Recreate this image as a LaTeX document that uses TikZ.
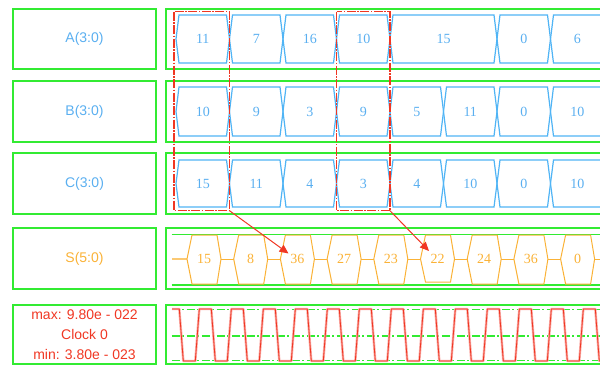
\documentclass[tikz,border=0pt]{standalone}
\usepackage{fontspec}
\setmainfont{Liberation Serif}
\setsansfont{Liberation Sans}
\usetikzlibrary{arrows.meta}
\definecolor{grn}{RGB}{50,235,50}
\definecolor{bl}{RGB}{80,180,245}
\definecolor{blt}{RGB}{90,175,240}
\definecolor{org}{RGB}{250,178,55}
\definecolor{rd}{RGB}{240,55,35}
\definecolor{pnk}{RGB}{250,170,165}
\newcommand\buscell[6]{%
  \pgfmathsetmacro\xa{#1}\pgfmathsetmacro\xb{#2}%
  \pgfmathsetmacro\ym{(#3+#4)/2}\pgfmathsetmacro\xm{(\xa+\xb)/2}%
  \draw[busline] (\xa,\ym) -- ({\xa+3},#3) -- ({\xb-3},#3) -- (\xb,\ym) -- ({\xb-3},#4) -- ({\xa+3},#4) -- cycle;
  \node[celltxt,text=blt] (#6) at (\xm,\ym) {#5};}
\newcommand\scell[4]{%
  \pgfmathsetmacro\xa{#1}%
  \draw[sline] (\xa,259) -- ({\xa+5},235) -- ({\xa+30},235) -- ({\xa+34},259) -- ({\xa+30},#3) -- ({\xa+5},#3) -- cycle;
  \draw[sline] ({\xa+34},259) -- ({\xa+46.7},259);
  \node[celltxt,text=org] (#4) at ({\xa+17},259) {#2};}
\begin{document}
\begin{tikzpicture}[x=1pt,y=-1pt,
  frame/.style={draw=grn,line width=1.8pt},
  busline/.style={draw=bl,line width=1.2pt,line join=miter},
  sline/.style={draw=org,line width=1pt},
  celltxt/.style={font=\fontsize{14}{16}\selectfont,inner sep=0pt},
  lbltxt/.style={font=\sffamily\fontsize{14}{16}\selectfont,inner sep=0pt},
  reddash/.style={draw=rd,line width=1.2pt,dash pattern=on 9pt off 1.5pt on 1.5pt off 1.5pt},
  redarrow/.style={draw=rd,line width=1pt,-{Triangle[length=9pt,width=8pt]}},
  gdash/.style={draw=grn,line width=1.2pt,dash pattern=on 8pt off 2.5pt on 2pt off 2.5pt},
  clkhalo/.style={draw=pnk,line width=2.4pt,line join=round},
  clk/.style={draw=rd,line width=0.8pt,line join=round}]
\useasboundingbox (0,0) rectangle (600,365);
\clip (0,0) rectangle (600,365);
% left label boxes
\draw[frame] (13,9) rectangle (156,69);
\draw[frame] (13,81) rectangle (156,142);
\draw[frame] (13,153) rectangle (156,214);
\draw[frame] (13,228) rectangle (156,289);
\draw[frame] (13,305) rectangle (156,364);
\node[lbltxt,text=blt] (la) at (84.5,39) {A(3:0)};
\node[lbltxt,text=blt] (lb) at (84.5,111.5) {B(3:0)};
\node[lbltxt,text=blt] (lcc) at (84.5,183.5) {C(3:0)};
\node[lbltxt,text=org] (ls) at (84.5,258.5) {S(5:0)};
\node[lbltxt,text=rd,align=center,font=\sffamily\fontsize{14}{20}\selectfont] (lk) at (84.5,335) {max: 9.80e - 022\\Clock 0\\min: 3.80e - 023};
% right boxes
\draw[frame] (166,9) rectangle (620,69);
\draw[frame] (166,81) rectangle (620,142);
\draw[frame] (166,153) rectangle (620,214);
\draw[frame] (166,228) rectangle (620,289);
\draw[frame] (166,305) rectangle (620,364);
\draw[draw=grn,line width=1.5pt] (171.7,234.3) -- (620,234.3);
\draw[draw=grn,line width=1.5pt] (171.7,285) -- (620,285);
% row A
\foreach \i/\j/\v [count=\n] in {0/1/11,1/2/7,2/3/16,3/4/10,4/6/15,6/7/0,7/8/6}
  {\buscell{176+53.5*\i}{176+53.5*\j}{15}{63}{\v}{a\n}}
% row B
\foreach \i/\v [count=\n] in {0/10,1/9,2/3,3/9,4/5,5/11,6/0,7/10}
  {\buscell{176+53.5*\i}{229.5+53.5*\i}{87}{136}{\v}{b\n}}
% row C
\foreach \i/\v [count=\n] in {0/15,1/11,2/4,3/3,4/4,5/10,6/0,7/10}
  {\buscell{176+53.5*\i}{229.5+53.5*\i}{160}{207}{\v}{c\n}}
% row S
\draw[draw=org!70,line width=1.6pt] (172,259) -- (187,259);
\foreach \i/\v/\bt [count=\n] in {0/15/284,1/8/284,2/36/284,3/27/284,4/23/284,5/22/282,6/24/284,7/36/284,8/0/284,9/{}/284}
  {\scell{187+46.7*\i}{\v}{\bt}{s\n}}
% clock
\draw[gdash] (171.7,309.3) -- (620,309.3);
\draw[gdash] (171.7,336) -- (620,336);
\draw[gdash] (171.7,360.7) -- (620,360.7);
\foreach \st in {clkhalo,clk}{
\draw[\st] (172,309) -- (179.3,309) -- (183.3,361)
  \foreach \k in {0,...,13}{ -- ({195.3+32*\k},361) -- ({199.3+32*\k},309) -- ({211.3+32*\k},309) -- ({215.3+32*\k},361) };
}
% red dashed selection boxes and arrows
\draw[reddash] (174,11.7) rectangle (229.5,210.7);
\draw[reddash] (336.5,11.7) rectangle (390,210.7);
\coordinate (r1) at (229.5,210.7);
\coordinate (r2) at (390,210.7);
\coordinate (t1) at (288.5,253.5);
\coordinate (t2) at (429,251);
\draw[redarrow] (r1) -- (t1);
\draw[redarrow] (r2) -- (t2);
\end{tikzpicture}
\end{document}
